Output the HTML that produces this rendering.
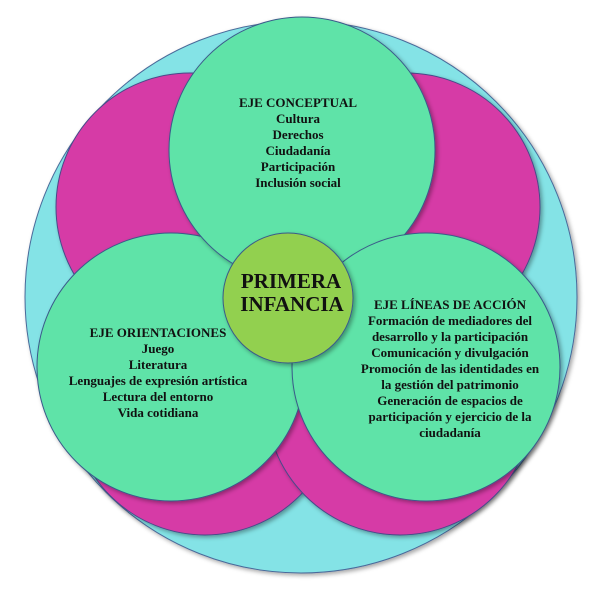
<!DOCTYPE html>
<html><head><meta charset="utf-8"><style>
html,body{margin:0;padding:0;background:#fff;}
svg{display:block}
text{font-family:"Liberation Serif",serif;font-weight:bold;fill:#111;text-anchor:middle}
</style></head><body>
<svg width="600" height="589" viewBox="0 0 600 589" xmlns="http://www.w3.org/2000/svg">
<defs>
<filter id="sh" x="-20%" y="-20%" width="140%" height="140%">
<feDropShadow dx="2" dy="2" stdDeviation="2" flood-color="#000" flood-opacity="0.35"/>
</filter>
</defs>
<circle cx="301" cy="297" r="276" fill="#84e3e6" stroke="#4a6a9a" stroke-width="1" filter="url(#sh)"/>
<circle cx="190" cy="207" r="134" fill="#d63ba6" stroke="#4a4a8a" stroke-width="1" filter="url(#sh)"/>
<circle cx="406" cy="207" r="134" fill="#d63ba6" stroke="#4a4a8a" stroke-width="1" filter="url(#sh)"/>
<circle cx="205" cy="401" r="134" fill="#d63ba6" stroke="#4a4a8a" stroke-width="1" filter="url(#sh)"/>
<circle cx="400" cy="401" r="134" fill="#d63ba6" stroke="#4a4a8a" stroke-width="1" filter="url(#sh)"/>
<circle cx="171" cy="367" r="134" fill="#5ee3a8" stroke="#3a5a8a" stroke-width="1" filter="url(#sh)"/>
<circle cx="302" cy="150" r="133" fill="#5ee3a8" stroke="#3a5a8a" stroke-width="1" filter="url(#sh)"/>
<circle cx="426" cy="367" r="134" fill="#5ee3a8" stroke="#3a5a8a" stroke-width="1" filter="url(#sh)"/>
<circle cx="288" cy="298" r="65" fill="#92d050" stroke="#3a5a8a" stroke-width="1" filter="url(#sh)"/>
<g font-size="13">
<text x="298" y="107" font-weight="normal">EJE CONCEPTUAL</text>
<text x="298" y="123">Cultura</text>
<text x="298" y="139">Derechos</text>
<text x="298" y="155">Ciudadanía</text>
<text x="298" y="171">Participación</text>
<text x="298" y="187">Inclusión social</text>

<text x="158" y="337">EJE ORIENTACIONES</text>
<text x="158" y="353">Juego</text>
<text x="158" y="369">Literatura</text>
<text x="158" y="385">Lenguajes de expresión artística</text>
<text x="158" y="401">Lectura del entorno</text>
<text x="158" y="417">Vida cotidiana</text>

<text x="450" y="309">EJE  LÍNEAS DE ACCIÓN</text>
<text x="450" y="325">Formación de mediadores del</text>
<text x="450" y="341">desarrollo y la participación</text>
<text x="450" y="357">Comunicación y divulgación</text>
<text x="450" y="373">Promoción de las identidades en</text>
<text x="450" y="389">la gestión del patrimonio</text>
<text x="450" y="405">Generación de espacios de</text>
<text x="450" y="421">participación y ejercicio  de la</text>
<text x="450" y="437">ciudadanía</text>
</g>
<text x="291" y="288" font-size="21">PRIMERA</text>
<text x="292" y="311" font-size="21">INFANCIA</text>
</svg>
</body></html>
